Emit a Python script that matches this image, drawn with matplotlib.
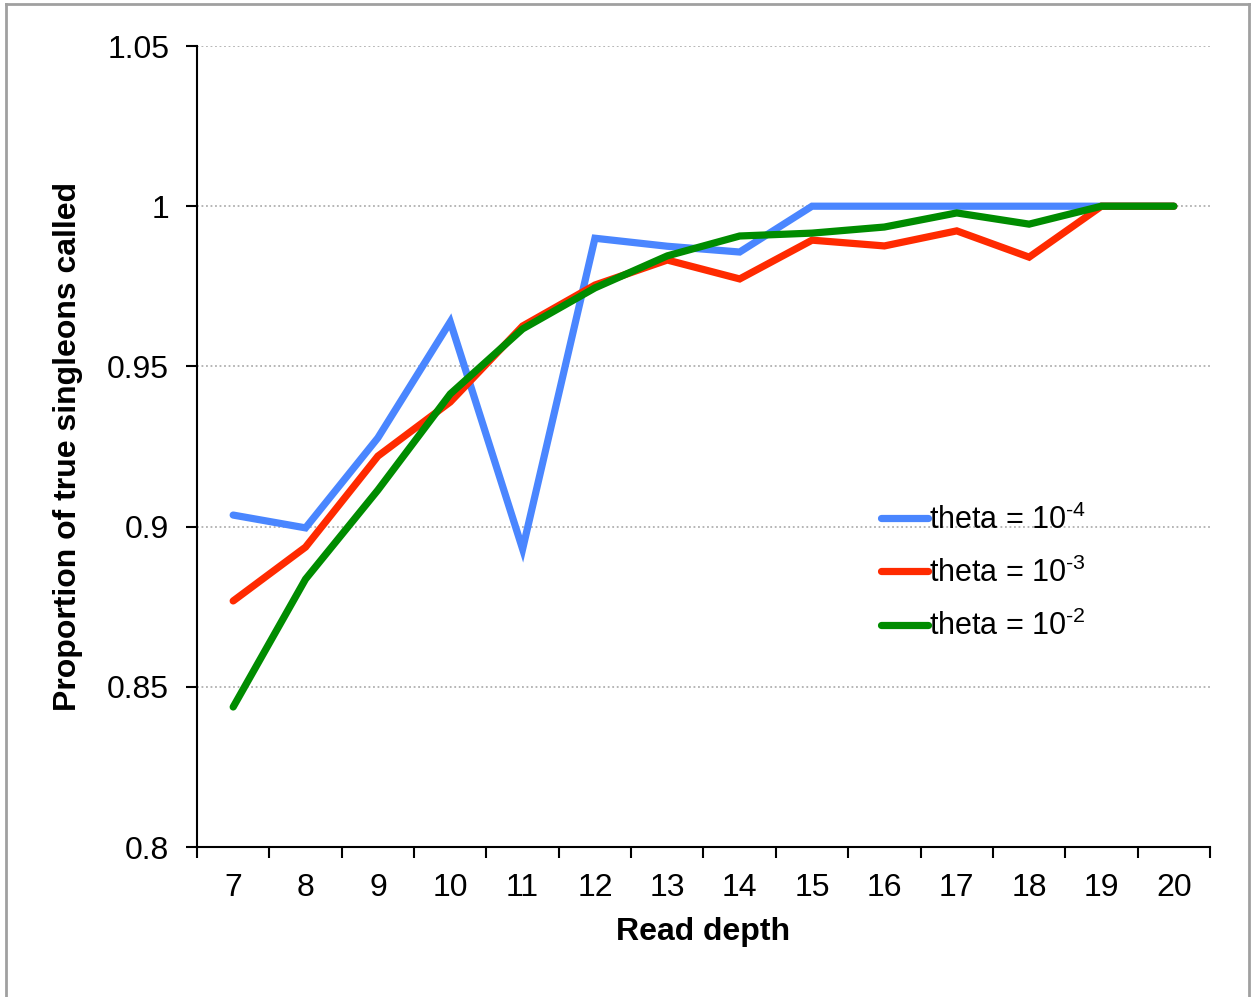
import numpy as np
import matplotlib
matplotlib.use('Agg')
import matplotlib.pyplot as plt
from matplotlib.lines import Line2D

plt.rcParams['font.family'] = ['Liberation Sans', 'DejaVu Sans']
plt.rcParams['mathtext.fontset'] = 'custom'
plt.rcParams['mathtext.rm'] = 'Liberation Sans'
plt.rcParams['mathtext.it'] = 'Liberation Sans'

# read depth categories
depth = [7, 8, 9, 10, 11, 12, 13, 14, 15, 16, 17, 18, 19, 20]

# proportion of true singletons called, per theta
theta_4 = [0.9036, 0.8996, 0.9277, 0.9639, 0.8930, 0.9900, 0.9875, 0.9857,
           1.0, 1.0, 1.0, 1.0, 1.0, 1.0]
theta_3 = [0.8768, 0.8936, 0.9220, 0.9389, 0.9626, 0.9754, 0.9832, 0.9773,
           0.9894, 0.9876, 0.9923, 0.9841, 1.0, 1.0]
theta_2 = [0.8437, 0.8836, 0.9114, 0.9414, 0.9617, 0.9745, 0.9845, 0.9907,
           0.9916, 0.9935, 0.9979, 0.9944, 1.0, 1.0]

labels = [r'theta = 10$^{\text{-4}}$', r'theta = 10$^{\text{-3}}$',
          r'theta = 10$^{\text{-2}}$']
colors = ['#4a86ff', '#ff2a00', '#008c00']

fig = plt.figure(figsize=(12.51, 9.97), dpi=100)
ax = fig.add_axes([197/1251, 150/997, 1013/1251, 801/997])

x = np.arange(len(depth))
for ys, lab, c in zip([theta_4, theta_3, theta_2], labels, colors):
    ax.plot(x, ys, color=c, lw=5.2, label=lab, solid_capstyle='round',
            solid_joinstyle='miter')

ax.set_xlim(-0.5, len(depth) - 0.5)
ax.set_ylim(0.8, 1.05)

# ticks between categories, labels on categories
ax.set_xticks(np.arange(-0.5, len(depth), 1.0))
ax.set_xticklabels([])
ax.set_xticks(x, minor=True)
ax.set_xticklabels([str(d) for d in depth], minor=True, fontsize=23)
ax.tick_params(axis='x', which='major', direction='out', length=8, width=1.5)
ax.tick_params(axis='x', which='minor', length=0, pad=19)

yt = [0.8, 0.85, 0.9, 0.95, 1.0, 1.05]
ax.set_yticks(yt)
ax.set_yticklabels(['0.8', '0.85', '0.9', '0.95', '1', '1.05'], fontsize=23)
ax.tick_params(axis='y', direction='out', length=8, width=1.5, pad=12)

for v in yt[1:]:
    ax.axhline(v, color='#b0b0b0', lw=1.3, ls=(0, (1, 1.5)), zorder=0)

for s in ['top', 'right']:
    ax.spines[s].set_visible(False)
for s in ['left', 'bottom']:
    ax.spines[s].set_linewidth(1.5)

ax.set_xlabel('Read depth', fontsize=23, fontweight='bold', va='center')
ax.xaxis.set_label_coords(0.5, -85/801)
ax.set_ylabel('Proportion of true singleons called', fontsize=23,
              fontweight='bold', va='center')
ax.yaxis.set_label_coords(-129/1013, 0.5)

leg = ax.legend(loc='upper left', bbox_to_anchor=(853/1251, 1 - 477/997),
                bbox_transform=fig.transFigure, frameon=False, fontsize=22,
                handlelength=1.55, handletextpad=0.05, labelspacing=0.72)

# outer border of the chart area
bc = '#a0a0a0'
fig.add_artist(Line2D([6/1251, 6/1251], [0, 1 - 4/997], color=bc, lw=2))
fig.add_artist(Line2D([6/1251, 1249/1251], [1 - 4/997, 1 - 4/997], color=bc, lw=2))
fig.add_artist(Line2D([1249/1251, 1249/1251], [0, 1 - 4/997], color=bc, lw=2))

fig.savefig('out.png', dpi=100)
